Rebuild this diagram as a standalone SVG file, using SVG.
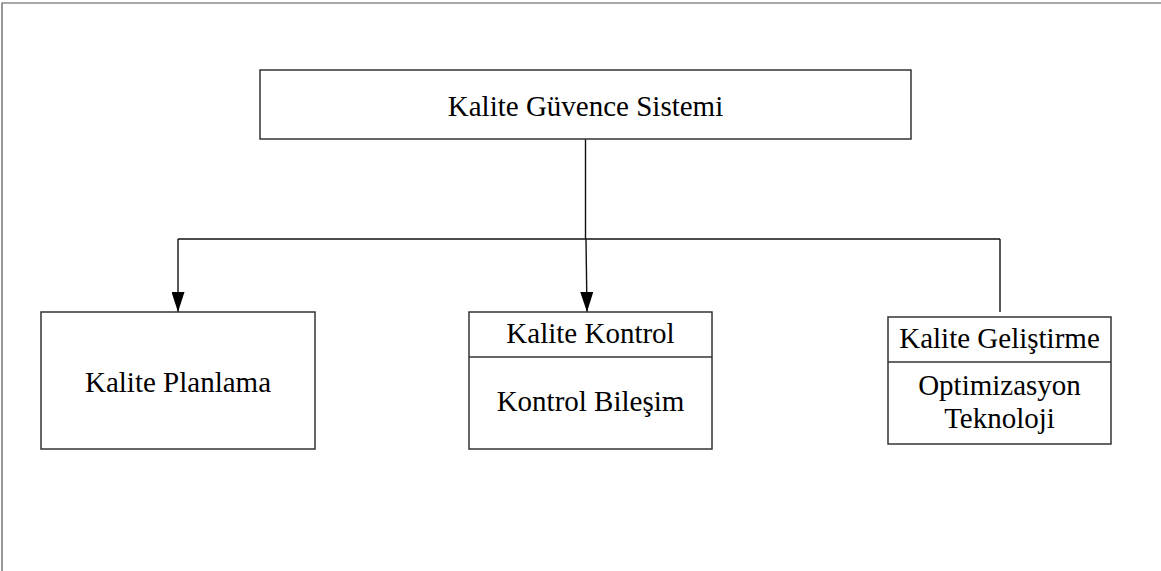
<svg xmlns="http://www.w3.org/2000/svg" width="1161" height="571" viewBox="0 0 1161 571">
<style>
  .box { fill: #ffffff; stroke: #333333; stroke-width: 1.5; }
  .div { stroke: #333333; stroke-width: 1.5; }
  .conn { fill: none; stroke: #111111; stroke-width: 1.4; }
  .lbl { font-family: "Liberation Serif", "Times New Roman", serif; font-size: 29px; fill: #000000; text-anchor: middle; }
  .frame { fill: none; stroke: #555555; stroke-width: 1.2; }
</style>
<defs>
  <marker id="arr" viewBox="0 0 20 13" refX="20" refY="6.5" markerWidth="20" markerHeight="13" markerUnits="userSpaceOnUse" orient="auto">
    <path d="M0,0 L20,6.5 L0,13 Z" fill="#000000"/>
  </marker>
</defs>
<rect width="1161" height="571" fill="#ffffff"/>
<path class="frame" d="M2,571 L2,3 L1161,3"/>
<g id="connectors">
  <path class="conn" d="M585.5,139 L585.5,239"/>
  <path class="conn" d="M178,239 L1000,239"/>
  <path class="conn" d="M178,239 L178,312" marker-end="url(#arr)"/>
  <path class="conn" d="M586,239 L587,312" marker-end="url(#arr)"/>
  <path class="conn" d="M1000,239 L1000,312"/>
</g>
<g id="node-top">
  <rect class="box" x="260" y="70" width="651" height="69"/>
  <text class="lbl" x="585.5" y="116">Kalite Güvence Sistemi</text>
</g>
<g id="node-planlama">
  <rect class="box" x="41" y="312" width="274" height="137"/>
  <text class="lbl" x="178" y="392">Kalite Planlama</text>
</g>
<g id="node-kontrol">
  <rect class="box" x="469" y="312" width="243" height="137"/>
  <line class="div" x1="469" y1="357" x2="712" y2="357"/>
  <text class="lbl" x="590.5" y="343">Kalite Kontrol</text>
  <text class="lbl" x="590.5" y="411">Kontrol Bileşim</text>
</g>
<g id="node-gelistirme">
  <rect class="box" x="888" y="317" width="223" height="127"/>
  <line class="div" x1="888" y1="362" x2="1111" y2="362"/>
  <text class="lbl" x="999.5" y="348">Kalite Geliştirme</text>
  <text class="lbl" x="999.5" y="395">Optimizasyon</text>
  <text class="lbl" x="999.5" y="428">Teknoloji</text>
</g>
</svg>
